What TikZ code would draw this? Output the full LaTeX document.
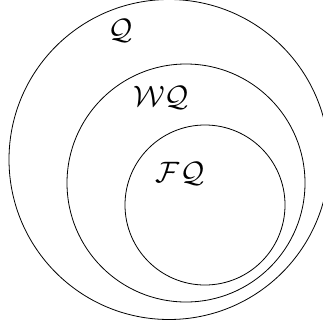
\documentclass[tikz,border=0pt]{standalone}
\begin{document}
\begin{tikzpicture}[x=1pt,y=-1pt,
  setcircle/.style={circle,draw,line width=0.8pt,inner sep=0pt,outer sep=0pt},
  setlabel/.style={inner sep=0pt,scale=2.95}]
\useasboundingbox (0,0) rectangle (323,324);
\clip (0,0) rectangle (323,324);
\node[setcircle,minimum size=320pt] (outer) at (169,159.5) {};
\node[setcircle,minimum size=238pt] (middle) at (186,183) {};
\node[setcircle,minimum size=160pt] (inner) at (205,205) {};
\node[setlabel] (lq) at (121,31) {$\mathcal{Q}$};
\node[setlabel] (lwq) at (161,98) {$\mathcal{WQ}$};
\node[setlabel] (lfq) at (180,174) {$\mathcal{FQ}$};
\end{tikzpicture}
\end{document}
